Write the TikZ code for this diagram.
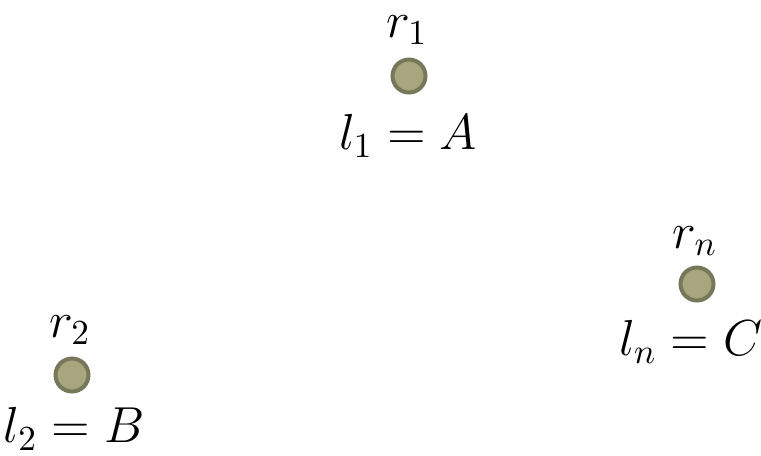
\documentclass[tikz,border=0pt]{standalone}
\usepackage{amsmath}
\usepackage{tikz}
\usetikzlibrary{positioning}

\definecolor{dotfill}{HTML}{A8A67E}
\definecolor{dotline}{HTML}{77775A}

\begin{document}
\begin{tikzpicture}[
    dot/.style={circle, fill=dotfill, draw=dotline, line width=0.04cm, minimum size=0.33cm, inner sep=0pt},
    tag/.style={inner sep=0pt, font=\fontsize{14.4}{17}\selectfont}
]
    \useasboundingbox (0,0) rectangle (7.61,-4.55);
    % robots
    \node[dot] (d1) at (4.09,-0.76) {};
    \node[dot] (d2) at (0.72,-3.75) {};
    \node[dot] (dn) at (6.97,-2.84) {};
    % names
    \node[tag] (r1) at (4.07,-0.30) {$r_1$};
    \node[tag] (r2) at (0.70,-3.30) {$r_2$};
    \node[tag] (rn) at (6.95,-2.41) {$r_n$};
    % labels
    \node[tag] (l1) at (4.08,-1.36) {$l_1 = A$};
    \node[tag] (l2) at (0.74,-4.29) {$l_2 = B$};
    \node[tag] (ln) at (6.91,-3.42) {$l_n = C$};
\end{tikzpicture}
\end{document}
